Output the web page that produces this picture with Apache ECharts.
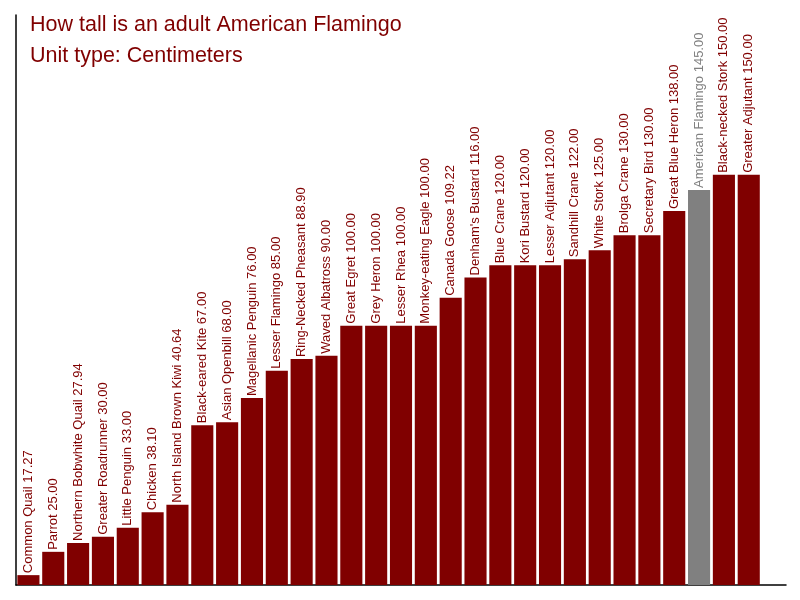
<!DOCTYPE html>
<html>
<head>
<meta charset="utf-8">
<script src="https://cdn.jsdelivr.net/npm/echarts@6/dist/echarts.min.js"></script>
<style>
  html, body { margin: 0; padding: 0; background: #fff; }
  #chart { width: 800px; height: 600px; }
</style>
</head>
<body>
<div id="chart"></div>
<script>
// bird names, left to right
var birds = [
    'Common Quail', 'Parrot', 'Northern Bobwhite Quail', 'Greater Roadrunner',
    'Little Penguin', 'Chicken', 'North Island Brown Kiwi', 'Black-eared Kite',
    'Asian Openbill', 'Magellanic Penguin', 'Lesser Flamingo', 'Ring-Necked Pheasant',
    'Waved Albatross', 'Great Egret', 'Grey Heron', 'Lesser Rhea',
    'Monkey-eating Eagle', 'Canada Goose', "Denham's Bustard", 'Blue Crane',
    'Kori Bustard', 'Lesser Adjutant', 'Sandhill Crane', 'White Stork',
    'Brolga Crane', 'Secretary Bird', 'Great Blue Heron', 'American Flamingo',
    'Black-necked Stork', 'Greater Adjutant'
]
// height in cm
var heights = [
    17.27, 25.00, 27.94, 30.00,
    33.00, 38.10, 40.64, 67.00,
    68.00, 76.00, 85.00, 88.90,
    90.00, 100.00, 100.00, 100.00,
    100.00, 109.22, 116.00, 120.00,
    120.00, 120.00, 122.00, 125.00,
    130.00, 130.00, 138.00, 145.00,
    150.00, 150.00
]
var highlight = 'American Flamingo'

var red = '#800000'
var grey = '#808080'

var chart = echarts.init(document.getElementById('chart'))

// one empty slot at the end, the axis runs past the last bar
var cats = birds.concat([''])
var seriesData = birds.map(function (name, i) {
    var c = name === highlight ? grey : red
    return {
        value: heights[i],
        itemStyle: { color: c },
        label: { color: c }
    }
})
seriesData.push('-')

var option = {
    animation: false,
    title: {
        text: 'How tall is an adult American Flamingo\nUnit type: Centimeters',
        left: 25,
        top: 5,
        textStyle: {
            color: red,
            fontSize: 21.5,
            fontWeight: 'normal',
            lineHeight: 31,
            fontFamily: 'Liberation Sans, Arial, sans-serif'
        }
    },
    grid: {
        left: 16,
        right: 14,
        top: 15,
        bottom: 15,
        containLabel: false
    },
    xAxis: {
        type: 'category',
        data: cats,
        axisLine: { lineStyle: { color: '#000', width: 1.5 } },
        axisTick: { show: false },
        axisLabel: { show: false }
    },
    yAxis: {
        type: 'value',
        min: 14,
        max: 203,
        splitLine: { show: false },
        axisLabel: { show: false },
        axisTick: { show: false },
        axisLine: { show: true, lineStyle: { color: '#000', width: 1.5 } }
    },
    series: [{
        type: 'bar',
        data: seriesData,
        barCategoryGap: '11%',
        label: {
            show: true,
            position: 'top',
            rotate: 90,
            align: 'left',
            verticalAlign: 'middle',
            distance: 2,
            fontSize: 13,
            fontFamily: 'Liberation Sans, Arial, sans-serif',
            formatter: function (p) {
                return p.name + ' ' + p.value.toFixed(2)
            }
        }
    }]
}

chart.setOption(option)
</script>
</body>
</html>
